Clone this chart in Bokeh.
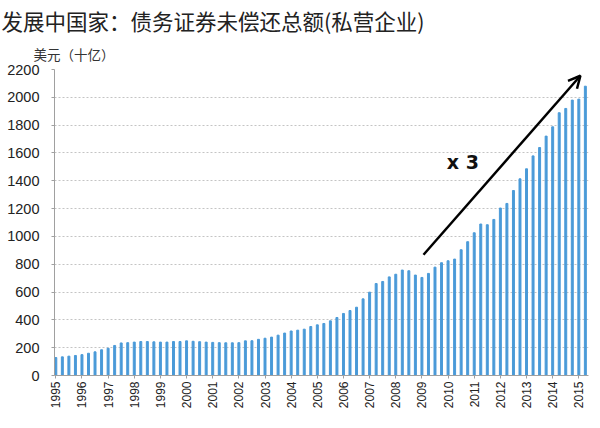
import math
from bokeh.plotting import figure
from bokeh.models import Range1d, FixedTicker, Title, Label, Arrow, OpenHead, ColumnDataSource
from bokeh.embed import file_html
from bokeh.resources import INLINE

# ---- data (quarterly, 1995Q1 .. 2015Q2), US$ billions ----
start_year = 1995
values = [
    129, 134, 139, 144,      # 1995
    150, 160, 170, 185,      # 1996
    196, 216, 234, 236,      # 1997
    240, 244, 244, 242,      # 1998
    240, 240, 244, 244,      # 1999
    249, 246, 243, 240,      # 2000
    238, 236, 235, 235,      # 2001
    236, 249, 250, 260,      # 2002
    268, 276, 290, 305,      # 2003
    320, 326, 333, 352,      # 2004
    364, 374, 393, 417,      # 2005
    446, 467, 491, 551,      # 2006
    599, 661, 676, 709,      # 2007
    728, 758, 753, 722,      # 2008
    705, 734, 779, 811,      # 2009
    825, 837, 904, 962,      # 2010
    1026, 1089, 1084, 1122,  # 2011
    1204, 1237, 1330, 1414,  # 2012
    1486, 1579, 1639, 1721,  # 2013
    1788, 1889, 1920, 1980,  # 2014
    1987, 2080,              # 2015
]
year_ticks = list(range(1995, 2016))
y_ticks = list(range(0, 2201, 200))
title_text = "发展中国家：债务证券未偿还总额(私营企业)"
unit_text = "美元（十亿）"
growth_text = "x 3"
arrow_from = (2009.06, 868)
arrow_to = (2015.06, 2155)

xs = [start_year + i / 4 for i in range(len(values))]
src = ColumnDataSource(data=dict(x=xs, top=values))

p = figure(width=600, height=428, output_backend="svg", toolbar_location=None,
           x_range=Range1d(1994.95, 2015.37), y_range=Range1d(0, 2200),
           min_border_left=54, min_border_right=12, min_border_bottom=53,
           min_border_top=69)
p.outline_line_color = None
p.background_fill_color = "white"

p.vbar(x="x", top="top", width=0.075, source=src, color="#4a9ad8")

# titles
p.title.text = title_text
p.title.text_font = "Noto Sans CJK SC"
p.title.text_font_size = "21.5px"
p.title.text_font_style = "normal"
p.title.text_color = "#222222"
p.title.align = "left"
p.title.offset = -53
p.title.standoff = 1
p.add_layout(Title(text=unit_text, text_font="Noto Sans CJK SC", text_font_size="13.5px",
                   text_font_style="normal", text_color="#333333", align="left",
                   offset=-21, standoff=11), "above")

# axes
p.xaxis.ticker = FixedTicker(ticks=year_ticks)
p.xaxis.major_label_orientation = math.pi / 2
p.xaxis.major_label_text_font = "Liberation Sans"
p.xaxis.major_label_text_font_size = "12px"
p.xaxis.major_label_text_color = "#222222"
p.xaxis.major_label_standoff = 3
p.xaxis.major_tick_out = 3
p.xaxis.major_tick_in = 0
p.xaxis.minor_tick_line_color = None
p.xaxis.axis_line_color = "#a0a0a0"
p.xaxis.major_tick_line_color = "#a0a0a0"

p.yaxis.ticker = FixedTicker(ticks=y_ticks)
p.yaxis.major_label_text_font = "Liberation Sans"
p.yaxis.major_label_text_font_size = "14.5px"
p.yaxis.major_label_text_color = "#222222"
p.yaxis.major_label_standoff = 12
p.yaxis.major_tick_out = 3
p.yaxis.major_tick_in = 0
p.yaxis.minor_tick_line_color = None
p.yaxis.axis_line_color = "#a0a0a0"
p.yaxis.major_tick_line_color = "#a0a0a0"

p.xgrid.grid_line_color = None
p.ygrid.ticker = FixedTicker(ticks=y_ticks[1:])
p.ygrid.grid_line_color = "#c4c4c4"
p.ygrid.grid_line_dash = "2 2"
p.ygrid.grid_line_width = 1

# annotation arrow and label
p.add_layout(Arrow(end=OpenHead(size=12, line_width=2.5, line_color="black"),
                   x_start=arrow_from[0], y_start=arrow_from[1],
                   x_end=arrow_to[0], y_end=arrow_to[1],
                   line_width=2.5, line_color="black"))
p.add_layout(Label(x=2009.95, y=1536, text=growth_text, text_font="DejaVu Sans",
                   text_font_style="bold", text_font_size="19px", text_color="#111111",
                   text_baseline="alphabetic"))

open("out.html", "w").write(file_html(p, INLINE))
